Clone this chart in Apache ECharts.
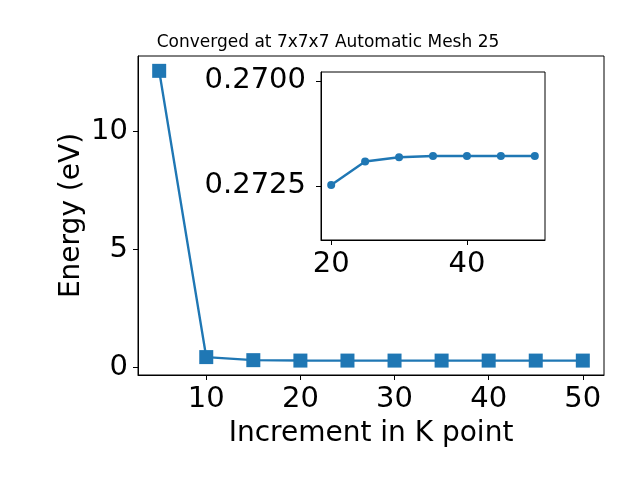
<!DOCTYPE html>
<html>
<head>
<meta charset="utf-8">
<script src="https://cdn.jsdelivr.net/npm/echarts@6/dist/echarts.min.js"></script>
<style>html,body{margin:0;padding:0;background:#fff}#c{width:640px;height:480px}</style>
</head>
<body>
<div id="c"></div>
<script>
const titleText = 'Converged at 7x7x7 Automatic Mesh 25';
const kPoints = [5, 10, 15, 20, 25, 30, 35, 40, 45, 50];
const energy = [12.57, 0.42, 0.29, 0.2725, 0.2719, 0.2718, 0.2718, 0.2718, 0.2718, 0.2718];
const insetK = [20, 25, 30, 35, 40, 45, 50];
const insetEnergy = [0.27248, 0.27192, 0.27182, 0.27179, 0.27179, 0.27179, 0.27179];
const xTicks = [10, 20, 30, 40, 50];
const yTicks = [0, 5, 10];
const insetXTicks = [20, 40];
const insetYTicks = [0.2700, 0.2725];

const FONT = 'DejaVu Sans';
const BLUE = '#1f77b4';
const TICK_FS = 29;
const LABEL_FS = 28;
const chart = echarts.init(document.getElementById('c'), null, {renderer: 'canvas'});

function axisCommon(ticks, margin, fmt) {
  return {
    axisLine: {show: true, onZero: false, lineStyle: {color: '#000', width: 1}},
    axisTick: {show: true, length: 5, customValues: ticks, lineStyle: {color: '#000', width: 1}},
    axisLabel: {show: true, customValues: ticks, margin: margin, color: '#000', fontSize: TICK_FS, fontFamily: FONT,
      formatter: fmt || (v => String(v))},
    splitLine: {show: false}
  };
}

chart.setOption({
  animation: false,
  backgroundColor: '#fff',
  title: {
    text: titleText, left: 323, top: 29, textAlign: 'center',
    textStyle: {fontSize: 17, fontWeight: 'normal', color: '#000', fontFamily: FONT}
  },
  grid: [
    {left: 138, right: 36, top: 56, bottom: 105, show: true, borderColor: '#000', borderWidth: 1, backgroundColor: 'transparent'},
    {left: 321, right: 95, top: 72, bottom: 240, show: true, borderColor: '#000', borderWidth: 1, backgroundColor: '#fff', z: 5}
  ],
  xAxis: [
    Object.assign({type: 'value', gridIndex: 0, min: 2.75, max: 52.25,
      name: 'Increment in K point', nameLocation: 'middle', nameGap: 45, nameMoveOverlap: false,
      nameTextStyle: {fontSize: LABEL_FS, color: '#000', fontFamily: FONT}}, axisCommon(xTicks, 10)),
    Object.assign({type: 'value', gridIndex: 1, min: 18.5, max: 51.5, z: 6}, axisCommon(insetXTicks, 10))
  ],
  yAxis: [
    Object.assign({type: 'value', gridIndex: 0, min: -0.34, max: 13.2,
      name: 'Energy (eV)', nameLocation: 'middle', nameGap: 52, nameMoveOverlap: false,
      nameTextStyle: {fontSize: LABEL_FS, color: '#000', fontFamily: FONT}}, axisCommon(yTicks, 10)),
    Object.assign({type: 'value', gridIndex: 1, min: 0.26979, max: 0.27379, inverse: true, z: 6},
      axisCommon(insetYTicks, 15, v => v.toFixed(4)))
  ],
  series: [
    {type: 'line', xAxisIndex: 0, yAxisIndex: 0, data: kPoints.map((k, i) => [k, energy[i]]),
      symbol: 'rect', symbolSize: 14, showAllSymbol: true,
      lineStyle: {color: BLUE, width: 2.4}, itemStyle: {color: BLUE}},
    {type: 'line', xAxisIndex: 1, yAxisIndex: 1, data: insetK.map((k, i) => [k, insetEnergy[i]]),
      symbol: 'circle', symbolSize: 8, showAllSymbol: true, z: 7,
      lineStyle: {color: BLUE, width: 2.4}, itemStyle: {color: BLUE}}
  ]
});
</script>
</body>
</html>
